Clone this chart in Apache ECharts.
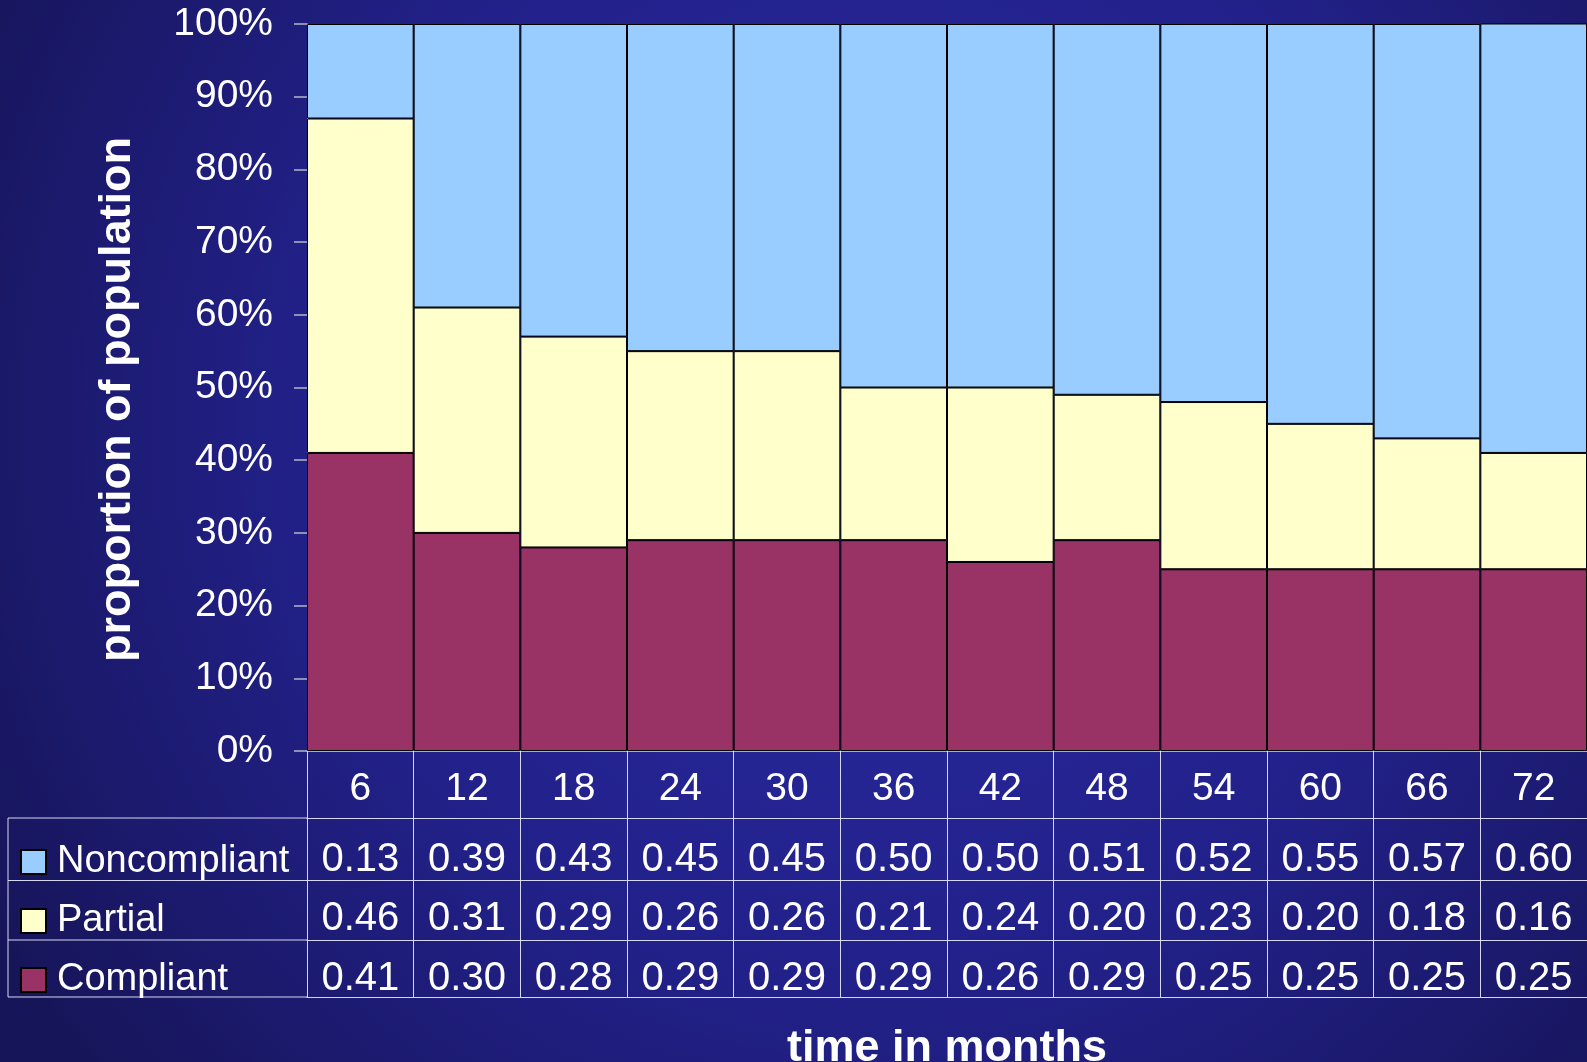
<!DOCTYPE html>
<html>
<head>
<meta charset="utf-8">
<title>Compliance over time</title>
<script src="https://cdn.jsdelivr.net/npm/echarts@6/dist/echarts.min.js"></script>
<style>
  html, body { margin: 0; padding: 0; background: #1b1a66; }
  #chart { width: 1587px; height: 1062px; }
</style>
</head>
<body>
<div id="chart"></div>
<script>
// Months of follow-up
const months = ['6', '12', '18', '24', '30', '36', '42', '48', '54', '60', '66', '72'];
// Share of the population in each compliance group
const noncompliant = [0.13, 0.39, 0.43, 0.45, 0.45, 0.50, 0.50, 0.51, 0.52, 0.55, 0.57, 0.60];
const partial      = [0.46, 0.31, 0.29, 0.26, 0.26, 0.21, 0.24, 0.20, 0.23, 0.20, 0.18, 0.16];
const compliant    = [0.41, 0.30, 0.28, 0.29, 0.29, 0.29, 0.26, 0.29, 0.25, 0.25, 0.25, 0.25];
const groupNames   = ['Noncompliant', 'Partial', 'Compliant'];
const yTicks       = [0, 0.1, 0.2, 0.3, 0.4, 0.5, 0.6, 0.7, 0.8, 0.9, 1.0];

const FONT = '"Liberation Sans", Arial, Helvetica, sans-serif';
const LINE = 'rgba(235,235,255,0.9)';
const colors = { Noncompliant: '#99CCFF', Partial: '#FFFFCC', Compliant: '#993366' };

const chart = echarts.init(document.getElementById('chart'), null, { renderer: 'canvas' });

// Layout of the plot and the data table under it
const G = { left: 307, top: 24, bottom: 751, right: 1587 };
const rowLines = [818, 880.5, 940, 997];     // table horizontal rules
const rowCenters = [860, 919, 979];          // vertical centres of the value rows

// One extra category axis per table row: its labels are the row's values,
// its ticks are the cell separators, its axis line is the row's top rule.
function tableAxis(values, topLine, bottomLine, center) {
  return {
    type: 'category',
    gridIndex: 0,
    position: 'bottom',
    data: months,
    offset: topLine - G.bottom,
    axisLine: { show: true, lineStyle: { color: LINE, width: 1 } },
    axisTick: { show: true, inside: false, length: bottomLine - topLine, lineStyle: { color: LINE, width: 1 } },
    axisLabel: {
      show: true,
      margin: center - topLine,
      verticalAlign: 'middle',
      color: '#ffffff',
      fontFamily: FONT,
      fontSize: 40,
      formatter: (v, i) => values[i].toFixed(2)
    },
    splitLine: { show: false }
  };
}

const option = {
  backgroundColor: {
    type: 'radial', x: 0.55, y: 0.4, r: 0.95,
    colorStops: [
      { offset: 0, color: '#2a2aa3' },
      { offset: 0.55, color: '#22218a' },
      { offset: 1, color: '#17155a' }
    ]
  },
  animation: false,
  grid: {
    left: G.left, right: 1587 - G.right, top: G.top, bottom: 1062 - G.bottom,
    containLabel: false,
    outerBoundsMode: 'none'
  },
  legend: {
    orient: 'vertical',
    left: 15,
    top: 857 - 19,
    itemWidth: 25,
    itemHeight: 24,
    itemGap: 21,
    icon: 'rect',
    selectedMode: false,
    data: groupNames,
    textStyle: { color: '#ffffff', fontFamily: FONT, fontSize: 38, padding: [0, 0, 0, 6] }
  },
  xAxis: [
    {
      type: 'category',
      data: months,
      name: 'time in months',
      nameLocation: 'middle',
      nameGap: 275,
      nameTextStyle: { color: '#ffffff', fontFamily: FONT, fontSize: 45, fontWeight: 'bold' },
      axisLine: { show: true, lineStyle: { color: LINE, width: 1.5 } },
      axisTick: { show: true, inside: false, length: rowLines[0] - G.bottom, lineStyle: { color: LINE, width: 1 } },
      axisLabel: { margin: 38, verticalAlign: 'middle', color: '#ffffff', fontFamily: FONT, fontSize: 39 },
      splitLine: { show: false }
    },
    tableAxis(noncompliant, rowLines[0], rowLines[1], rowCenters[0]),
    tableAxis(partial, rowLines[1], rowLines[2], rowCenters[1]),
    tableAxis(compliant, rowLines[2], rowLines[3], rowCenters[2]),
    {
      type: 'category',
      data: months,
      position: 'bottom',
      offset: rowLines[3] - G.bottom,
      axisLine: { show: true, lineStyle: { color: LINE, width: 1 } },
      axisTick: { show: false },
      axisLabel: { show: false }
    }
  ],
  yAxis: {
    type: 'value',
    min: 0,
    max: 1,
    interval: 0.1,
    name: 'proportion of population',
    nameLocation: 'middle',
    nameGap: 167,
    nameTextStyle: { color: '#ffffff', fontFamily: FONT, fontSize: 45, fontWeight: 'bold', padding: [0, 24, 0, 0] },
    axisLine: { show: true, lineStyle: { color: '#d8d8e8', width: 1 } },
    axisTick: { show: true, length: 13, lineStyle: { color: '#b4b4cc', width: 1.5 } },
    axisLabel: {
      margin: 34,
      padding: [6, 0, 0, 0],
      color: '#ffffff',
      fontFamily: FONT,
      fontSize: 39,
      formatter: v => {
        const k = yTicks.findIndex(t => Math.abs(t - v) < 1e-9);
        return Math.round((k >= 0 ? yTicks[k] : v) * 100) + '%';
      }
    },
    splitLine: { show: false }
  },
  series: [
    { name: 'Compliant', data: compliant },
    { name: 'Partial', data: partial },
    { name: 'Noncompliant', data: noncompliant }
  ].map(s => ({
    type: 'bar',
    name: s.name,
    stack: 'share',
    data: s.data,
    barCategoryGap: '0%',
    clip: true,
    itemStyle: { color: colors[s.name], borderColor: '#000000', borderWidth: 1 },
    emphasis: { disabled: true }
  }))
};

chart.setOption(option);

// Rules of the label column to the left of the value cells
const leftX = 8;
const lines = rowLines.map(y => ({
  type: 'line',
  shape: { x1: leftX, y1: y, x2: G.left, y2: y },
  style: { stroke: LINE, lineWidth: 1 },
  silent: true
}));
lines.push({
  type: 'line',
  shape: { x1: leftX, y1: rowLines[0], x2: leftX, y2: rowLines[3] },
  style: { stroke: LINE, lineWidth: 1 },
  silent: true
});
chart.setOption({ graphic: { elements: lines } });
</script>
</body>
</html>
